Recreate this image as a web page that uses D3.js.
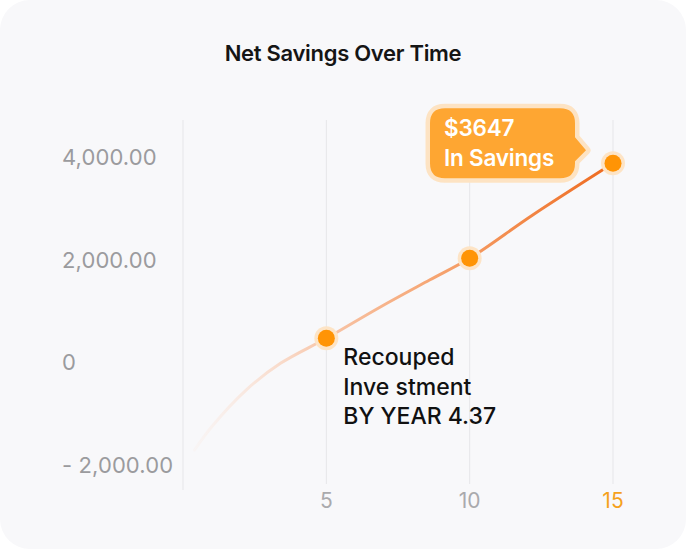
<!DOCTYPE html>
<html>
<head>
<meta charset="utf-8">
<script src="https://cdn.jsdelivr.net/npm/d3@7"></script>
<style>
  html, body { margin: 0; padding: 0; background: #ffffff; }
  svg { display: block; }
</style>
</head>
<body>
<svg id="chart"></svg>
<script>
const years = [0.4, 1, 2.2, 3.4, 5, 6.9, 8.6, 10, 12.2, 15];
const savings = [-1710, -1255, -540, -20, 468, 1083, 1603, 2026, 2870, 3877];
const markerYears = [5, 10, 15];
const xTicks = [5, 10, 15];
const yTicks = [-2000, 0, 2000, 4000];
const yTickLabels = ["- 2,000.00", "0", "2,000.00", "4,000.00"];
const calloutLines = ["$3647", "In Savings"];
const noteLines = ["Recouped", "Inve stment", "BY YEAR 4.37"];

const W = 686, H = 549;
const FONT = "Inter, 'Noto Sans', sans-serif";

const svg = d3.select("#chart").attr("width", W).attr("height", H);

// card
svg.append("rect").attr("x", 0).attr("y", 0).attr("width", W).attr("height", H)
  .attr("rx", 30).attr("fill", "#f8f8fa");

svg.append("text")
  .attr("x", 343).attr("y", 61)
  .attr("text-anchor", "middle")
  .style("font-family", FONT).style("font-size", "22px").style("font-weight", "600")
  .style("fill", "#151515").style("letter-spacing", "-0.3px")
  .text("Net Savings Over Time");

const x = d3.scaleLinear().domain([0, 15]).range([183, 613]);
const y = d3.scaleLinear().domain([-2000, 4000]).range([465, 157]);

// vertical grid
svg.append("g").selectAll("line").data([0, ...xTicks]).join("line")
  .attr("x1", d => x(d)).attr("x2", d => x(d))
  .attr("y1", 120).attr("y2", d => d === 0 ? 490 : 484)
  .attr("stroke", "#e6e6e9").attr("stroke-width", 1);

// y labels
svg.append("g").selectAll("text").data(yTicks).join("text")
  .attr("x", 62).attr("y", d => y(d)).attr("dy", "0.36em")
  .style("font-family", FONT).style("font-size", "22px").style("fill", "#9b9b9e")
  .style("letter-spacing", "0.1px")
  .text((d, i) => yTickLabels[i]);

// x labels
svg.append("g").selectAll("text").data(xTicks).join("text")
  .attr("x", d => x(d)).attr("y", 508)
  .attr("text-anchor", "middle")
  .style("font-family", FONT).style("font-size", "21px")
  .style("fill", d => d === 15 ? "#f5a11c" : "#aaaaad")
  .text(d => d);

// line gradient
const defs = svg.append("defs");
const grad = defs.append("linearGradient").attr("id", "lineGrad")
  .attr("gradientUnits", "userSpaceOnUse")
  .attr("x1", x(years[0])).attr("x2", x(15)).attr("y1", 0).attr("y2", 0);
[[0, "#fbe3d6", 0.15], [0.3, "#f8c7ab", 1], [0.65, "#f59b62", 1], [1, "#ee6a1f", 1]].forEach(s => {
  grad.append("stop").attr("offset", s[0]).attr("stop-color", s[1]).attr("stop-opacity", s[2]);
});

const pts = years.map((yr, i) => ({ year: yr, value: savings[i] }));
const line = d3.line().x(d => x(d.year)).y(d => y(d.value)).curve(d3.curveCatmullRom.alpha(0.5));
svg.append("path").datum(pts)
  .attr("d", line).attr("fill", "none")
  .attr("stroke", "url(#lineGrad)").attr("stroke-width", 3).attr("stroke-linecap", "round");

// markers
const markers = pts.filter(d => markerYears.includes(d.year));
svg.append("g").selectAll("circle.halo").data(markers).join("circle")
  .attr("class", "halo").attr("cx", d => x(d.year)).attr("cy", d => y(d.value))
  .attr("r", 12).attr("fill", "#fde4c6");
svg.append("g").selectAll("circle.dot").data(markers).join("circle")
  .attr("class", "dot").attr("cx", d => x(d.year)).attr("cy", d => y(d.value))
  .attr("r", 8.5).attr("fill", "#ff9405");

// callout bubble near last point
const last = markers[markers.length - 1];
const px = x(last.year), py = y(last.value);
const bx0 = px - 183, bx1 = px - 38, by0 = py - 55, by1 = py + 15, r = 15;
const bubble = d3.path();
bubble.moveTo(bx0 + r, by0);
bubble.lineTo(bx1 - r, by0);
bubble.quadraticCurveTo(bx1, by0, bx1, by0 + r);
bubble.lineTo(bx1, py - 26);
bubble.lineTo(px - 27, py - 13);
bubble.lineTo(bx1, py - 2);
bubble.lineTo(bx1, by1 - r);
bubble.quadraticCurveTo(bx1, by1, bx1 - r, by1);
bubble.lineTo(bx0 + r, by1);
bubble.quadraticCurveTo(bx0, by1, bx0, by1 - r);
bubble.lineTo(bx0, by0 + r);
bubble.quadraticCurveTo(bx0, by0, bx0 + r, by0);
bubble.closePath();
svg.append("path").attr("d", bubble.toString())
  .attr("fill", "#fea632").attr("stroke", "#fde3c3").attr("stroke-width", 9)
  .attr("stroke-linejoin", "round");
svg.append("path").attr("d", bubble.toString()).attr("fill", "#fea632");

svg.append("g").selectAll("text").data(calloutLines).join("text")
  .attr("x", bx0 + 14).attr("y", (d, i) => py - 27 + i * 30)
  .style("font-family", FONT).style("font-size", "22.5px").style("font-weight", "600")
  .style("fill", "#ffffff").style("letter-spacing", "-0.2px")
  .text(d => d);

// recoup note by first marker
const first = markers[0];
svg.append("g").selectAll("text").data(noteLines).join("text")
  .attr("x", x(first.year) + 17).attr("y", (d, i) => y(first.value) + 27 + i * 29.5)
  .style("font-family", FONT).style("font-size", "23px").style("font-weight", "500")
  .style("fill", "#111111")
  .text(d => d);
</script>
</body>
</html>
